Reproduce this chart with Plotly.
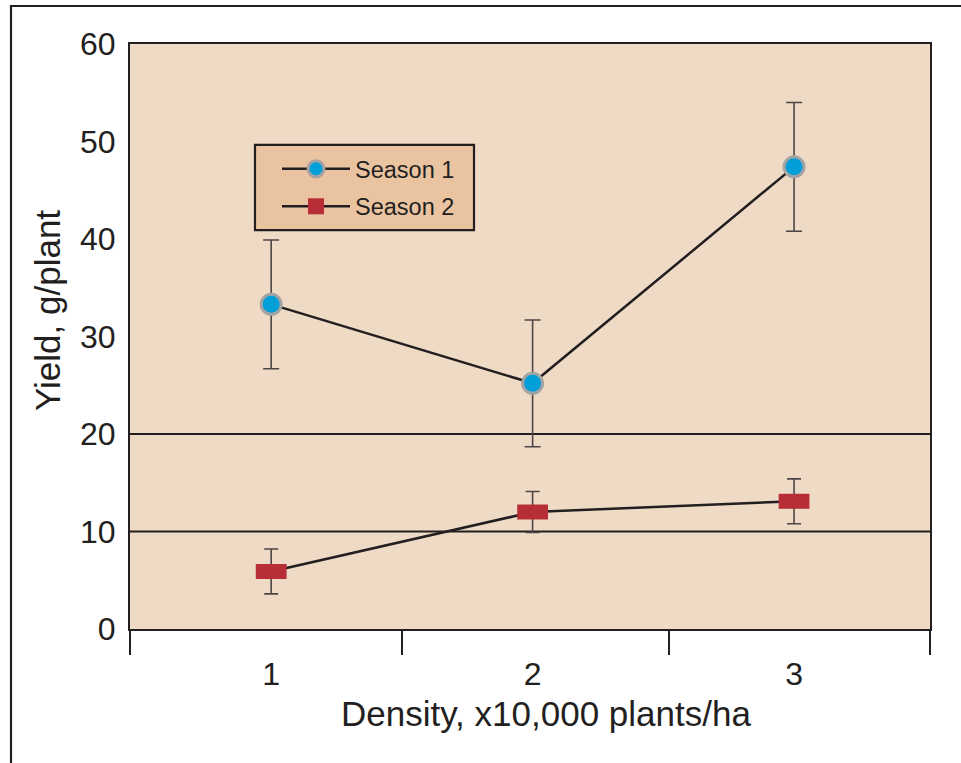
import plotly.graph_objects as go

# ---- data ----
density = [1, 2, 3]
season1_mean = [33.3, 25.2, 47.4]
season1_err = [6.6, 6.5, 6.6]
season2_mean = [5.9, 12.0, 13.1]
season2_err = [2.3, 2.1, 2.3]
y_ticks = [0, 10, 20, 30, 40, 50, 60]
ref_lines = [10, 20]
x_range = [0.46, 3.52]
x_bounds = [0.46, 1.5, 2.52, 3.52]

FONT = "Liberation Sans, Arial, sans-serif"
INK = "#231f20"
LEGEND_FILL = "#eac4a0"

fig = go.Figure()

fig.add_trace(go.Scatter(
    x=density, y=season1_mean, name="Season 1", mode="lines+markers",
    legendgroup="s1",
    line=dict(color=INK, width=2.5),
    marker=dict(symbol="circle", size=20, color="#009fda",
                line=dict(color="#a3a3a3", width=3)),
    error_y=dict(type="data", array=season1_err, color="#4d4545",
                 thickness=1.6, width=8),
))

fig.add_trace(go.Scatter(
    x=density, y=season2_mean, name="Season 2", mode="lines+markers",
    legendgroup="s2", showlegend=False,
    line=dict(color=INK, width=2.5),
    marker=dict(symbol="line-ew", size=22, color="#b72e37",
                line=dict(color="#b72e37", width=15)),
    error_y=dict(type="data", array=season2_err, color="#4d4545",
                 thickness=1.6, width=7),
))

# legend key for Season 2 (rectangular marker)
fig.add_trace(go.Scatter(
    x=[None], y=[None], name="Season 2", mode="lines+markers",
    legendgroup="s2",
    line=dict(color=INK, width=2.5),
    marker=dict(symbol="square", size=16, color="#b72e37"),
))

# invisible trace to activate the boundary-tick axis
fig.add_trace(go.Scatter(x=[None], y=[None], xaxis="x2", showlegend=False,
                         hoverinfo="skip"))

for v in ref_lines:
    fig.add_shape(type="line", xref="x domain", x0=0, x1=1, yref="y",
                  y0=v, y1=v, line=dict(color=INK, width=2), layer="below")

# legend box
fig.add_shape(type="rect", xref="paper", yref="paper",
              x0=0.15625, x1=0.43, y0=0.682, y1=0.8274,
              fillcolor=LEGEND_FILL, line=dict(color=INK, width=2.2),
              layer="below")

# outer frame
fig.add_shape(type="rect", xref="paper", yref="paper",
              x0=-0.14875, x1=1.3, y0=-0.6, y1=1.065,
              line=dict(color=INK, width=2.2), layer="below")

fig.update_layout(
    width=961, height=763,
    margin=dict(l=130, r=31, t=44, b=134),
    paper_bgcolor="white",
    plot_bgcolor="#efdac6",
    font=dict(family=FONT, color=INK, size=30),
    showlegend=True,
    legend=dict(
        x=0.18375, y=0.824, xanchor="left", yanchor="top",
        bgcolor="rgba(0,0,0,0)", borderwidth=0,
        font=dict(size=23.5, family=FONT, color=INK),
        tracegroupgap=4, itemwidth=68,
    ),
    xaxis=dict(
        range=x_range, tickvals=density, ticktext=[str(d) for d in density],
        ticks="", showgrid=False, zeroline=False,
        showline=True, linecolor=INK, linewidth=2, mirror=True,
        tickfont=dict(size=32), ticklabelstandoff=16,
    ),
    xaxis2=dict(
        range=x_range, overlaying="x", anchor="y", side="bottom",
        tickvals=x_bounds, ticks="outside", ticklen=25, tickwidth=2,
        tickcolor=INK, showticklabels=False, showgrid=False,
        zeroline=False, showline=False,
    ),
    yaxis=dict(
        range=[0, 60], tickvals=y_ticks, ticks="", showgrid=False,
        zeroline=False, showline=True, linecolor=INK, linewidth=2,
        mirror=True, tickfont=dict(size=32), ticklabelstandoff=6,
    ),
    annotations=[
        dict(text="Density, x10,000 plants/ha", xref="paper", yref="paper",
             x=0.52, y=-0.144, xanchor="center", yanchor="middle",
             showarrow=False, font=dict(size=35)),
        dict(text="Yield, g/plant", xref="paper", yref="paper",
             x=-0.1025, y=0.5436, xanchor="center", yanchor="middle",
             textangle=-90, showarrow=False, font=dict(size=35)),
    ],
)

fig.write_html("out.html", config={"displayModeBar": False},
               post_script="document.body.style.margin='0px';")
